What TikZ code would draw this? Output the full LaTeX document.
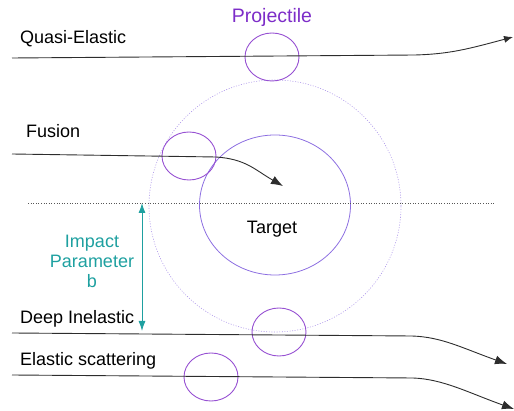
\documentclass[tikz,border=0pt]{standalone}
\usepackage{fontspec}
\setmainfont{Liberation Sans}
\usetikzlibrary{arrows.meta,positioning,shapes.geometric}
\definecolor{nuviolet}{RGB}{150,80,210}
\definecolor{nutarget}{RGB}{140,110,225}
\definecolor{nulabel}{RGB}{125,45,200}
\definecolor{nuteal}{RGB}{30,160,160}
\definecolor{nugray}{RGB}{45,45,45}

\begin{document}
\begin{tikzpicture}[x=1pt, y=-1pt, >=Latex,
  proj/.style={draw=nuviolet,line width=0.9pt,ellipse,minimum width=54pt,
               minimum height=48pt,inner sep=0pt},
  traj/.style={draw=nugray,line width=0.9pt,
               -{Latex[length=12pt,width=9pt]}},
  lbl/.style={anchor=base west,inner sep=0pt,font=\fontsize{18}{20}\selectfont}]
  \useasboundingbox (0,0) rectangle (514,411);

  % target and the reach of the nuclear force
  \node[draw=nutarget,line width=0.8pt,ellipse,minimum width=151pt,
        minimum height=140pt,inner sep=0pt] (target) at (275,205) {};
  \node[draw=nutarget!70,line width=0.6pt,dash pattern=on 1pt off 1.6pt,
        circle,minimum size=252pt,inner sep=0pt] (range) at (275,206) {};
  \draw[nugray!80,line width=0.7pt,dash pattern=on 1pt off 1.6pt]
    (28,203) coordinate (axis-l) -- (495,203) coordinate (axis-r);

  % projectiles
  \node[proj] (p-qe)  at (272,57)  {};
  \node[proj] (p-fu)  at (189,156) {};
  \node[proj] (p-di)  at (279,332) {};
  \node[proj] (p-el)  at (211,377) {};

  % trajectories
  \coordinate (qe-in)  at (12,58);   \coordinate (qe-bend) at (415,55);
  \coordinate (qe-out) at (513,37);
  \coordinate (fu-in)  at (12,154);  \coordinate (fu-bend) at (216,157);
  \coordinate (fu-out) at (283,186);
  \coordinate (di-in)  at (12,333);  \coordinate (di-bend) at (412,336);
  \coordinate (di-out) at (507,364);
  \coordinate (el-in)  at (12,375);  \coordinate (el-bend) at (413,378);
  \coordinate (el-out) at (514,409);
  \draw[traj,-{Latex[length=9pt,width=7pt]}]
    (qe-in) -- (qe-bend) .. controls +(35,-1) and +(-45,12) .. (qe-out);
  \draw[traj] (fu-in) -- (fu-bend) .. controls +(30,2) and +(-28,-16) .. (fu-out);
  \draw[traj] (di-in) -- (di-bend) .. controls +(30,1) and +(-45,-16) .. (di-out);
  \draw[traj] (el-in) -- (el-bend) .. controls +(30,1) and +(-45,-16) .. (el-out);

  % impact parameter
  \coordinate (b-top) at (142,203);
  \coordinate (b-bot) at (142,331);
  \draw[nuteal,line width=0.9pt,{Latex[length=10pt,width=7pt]}-{Latex[length=10pt,width=7pt]}]
    (b-top) -- (b-bot);
  \node[text=nuteal,align=center,inner sep=0pt,
        font=\fontsize{18}{20}\selectfont,anchor=base] (bpar) at (92,288)
    {Impact\\Parameter\\b};

  % labels
  \node[lbl] (l-qe) at (20,44)  {Quasi-Elastic};
  \node[lbl] (l-fu) at (26,138) {Fusion};
  \node[lbl] (l-di) at (20,324) {Deep Inelastic};
  \node[lbl] (l-el) at (20,366) {Elastic scattering};
  \node[lbl,anchor=base,text=nulabel,font=\fontsize{19.5}{22}\selectfont]
    (l-proj) at (272,23) {Projectile};
  \node[lbl,anchor=base] (l-tg) at (272,234) {Target};
\end{tikzpicture}
\end{document}
